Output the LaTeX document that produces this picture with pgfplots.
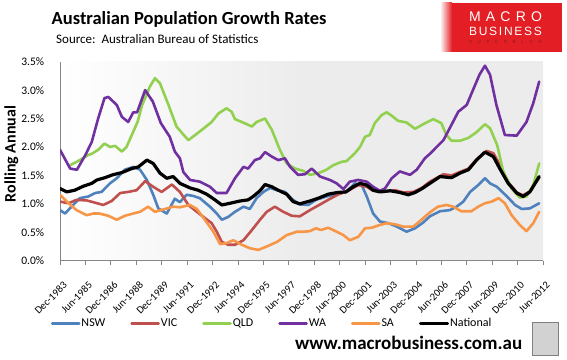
\documentclass[border=0pt]{standalone}
\usepackage{pgfplots}
\pgfplotsset{compat=1.18}
\usepackage{fontspec}
\setmainfont{Carlito}
\newfontfamily\logofont{Liberation Sans}
\definecolor{cNSW}{HTML}{4F81BD}
\definecolor{cVIC}{HTML}{C0504D}
\definecolor{cQLD}{HTML}{92D050}
\definecolor{cWA}{HTML}{7030A0}
\definecolor{cSA}{HTML}{F79646}
\definecolor{axgray}{HTML}{868686}
\definecolor{bggray}{HTML}{ECECEC}
\definecolor{mbred}{HTML}{E31E25}
\definecolor{mbdark}{HTML}{8C1C1C}
\pgfdeclarehorizontalshading{plotbg}{100bp}{color(0bp)=(white); color(25bp)=(white); color(50bp)=(bggray); color(100bp)=(bggray)}
\begin{document}
\begin{tikzpicture}[x=1pt,y=1pt]
\useasboundingbox (0,0) rectangle (567,359);
\begin{axis}[
  at={(60pt,98.3pt)}, anchor=south west,
  scale only axis, width=483pt, height=199pt,
  xmin=0, xmax=114, ymin=0, ymax=3.5,
  axis lines*=left,
  axis line style={axgray, line width=0.8pt},
  axis background/.style={shading=plotbg},
  xtick={0,6,...,114},
  xticklabels={Dec-1983,Jun-1985,Dec-1986,Jun-1988,Dec-1989,Jun-1991,Dec-1992,Jun-1994,Dec-1995,Jun-1997,Dec-1998,Jun-2000,Dec-2001,Jun-2003,Dec-2004,Jun-2006,Dec-2007,Jun-2009,Dec-2010,Jun-2012},
  ytick={0,0.5,1,1.5,2,2.5,3,3.5},
  yticklabels={0.0\%,0.5\%,1.0\%,1.5\%,2.0\%,2.5\%,3.0\%,3.5\%},
  tick align=outside,
  major tick length=4pt,
  xtick style={axgray, line width=0.8pt},
  ytick style={draw=none},
  xticklabel style={font=\fontsize{10.5}{12}\selectfont, inner sep=0pt, xshift=2.5pt, yshift=-16pt, anchor=north east, rotate=45},
  yticklabel style={font=\fontsize{11.5}{13}\selectfont, inner sep=0pt, anchor=east, xshift=-11.7pt},
  ylabel={Rolling Annual},
  ylabel style={at={(axis description cs:-0.1006,0.536)}, anchor=center, font=\bfseries\fontsize{16}{18}\selectfont},
  legend columns=6,
  legend image code/.code={\draw[#1] (0pt,0pt) -- (27pt,0pt);},
  legend style={at={(axis description cs:-0.01925,-0.3146)}, anchor=west, draw=none, fill=none, inner sep=0pt, font=\fontsize{12}{14}\selectfont, nodes={inner sep=1pt}, column sep=0pt, /tikz/every even column/.append style={column sep=24pt}},
  every axis plot/.append style={line join=round, line cap=round},
]
\addplot[cNSW, line width=2.6pt] coordinates {(0,0.89)(1.2,0.83)(2.7,0.95)(4.7,1.10)(6.7,1.13)(8.3,1.19)(9.8,1.21)(11.8,1.36)(13.4,1.45)(15.3,1.60)(17.3,1.65)(18.9,1.60)(20.5,1.42)(22,1.16)(23.2,0.92)(25.2,0.83)(27.1,1.09)(28.3,1.03)(29.9,1.16)(31.4,1.14)(33,1.10)(35.4,0.95)(37,0.83)(38.2,0.72)(39.7,0.77)(41.3,0.86)(43.3,0.95)(44.8,0.91)(46.4,1.10)(48,1.21)(49.6,1.28)(51.2,1.24)(53.1,1.21)(55,1.07)(56.6,0.99)(58.6,0.98)(60.4,1.07)(62.9,1.13)(65.3,1.17)(67.5,1.21)(69.6,1.36)(71.2,1.33)(72.4,1.13)(73.9,0.83)(75.5,0.69)(77.5,0.66)(79.5,0.60)(81.8,0.51)(83.8,0.57)(85.7,0.67)(87.3,0.78)(89.7,0.87)(92,0.89)(93.6,0.95)(95.2,1.04)(96.8,1.21)(98.7,1.33)(100.3,1.45)(101.5,1.36)(103.1,1.30)(105.5,1.13)(107.4,0.98)(109,0.91)(110.9,0.92)(113.1,1.01)};
\addlegendentry{NSW}
\addplot[cVIC, line width=2.6pt] coordinates {(0,1.04)(2,1.01)(3.9,1.07)(6.3,1.06)(8.3,1.02)(10.2,0.98)(12.2,1.05)(14.2,1.19)(16.1,1.21)(18.1,1.24)(20.1,1.40)(22,1.30)(24,1.21)(26.4,1.34)(28.3,1.21)(30.3,0.98)(32.3,0.86)(34.2,0.75)(35.8,0.66)(37,0.51)(38.2,0.33)(39.7,0.28)(41.3,0.28)(43.3,0.36)(45.3,0.54)(47.2,0.72)(48.8,0.86)(50.7,0.95)(52.7,0.86)(54.7,0.79)(56.6,0.78)(59,0.89)(61.4,0.99)(63.3,1.07)(65.5,1.16)(68,1.23)(70.4,1.33)(72.4,1.30)(73.9,1.23)(76.3,1.21)(79.1,1.24)(81,1.20)(83.4,1.21)(85.4,1.28)(87.3,1.39)(90.5,1.52)(92.4,1.50)(96.4,1.62)(98.3,1.78)(100.7,1.93)(102.3,1.89)(103.8,1.69)(105.8,1.38)(107.8,1.20)(109.3,1.15)(110.9,1.22)(113.1,1.46)};
\addlegendentry{VIC}
\addplot[cQLD, line width=2.6pt] coordinates {(2.4,1.68)(4.7,1.77)(6.7,1.86)(7.5,1.88)(9,1.95)(10.5,2.06)(11.8,2.00)(13,2.02)(14.6,1.92)(15.7,2.00)(17.3,2.27)(18.3,2.44)(19.4,2.74)(21.2,3.06)(22.4,3.21)(23.6,3.12)(25.6,2.74)(27.5,2.36)(29.1,2.22)(30.3,2.12)(31.9,2.21)(33.8,2.32)(35.8,2.44)(37.4,2.59)(39.3,2.68)(40.5,2.62)(41.3,2.49)(42.9,2.44)(45.3,2.36)(46.4,2.44)(48.4,2.50)(50,2.30)(51.9,1.95)(53.5,1.71)(55.5,1.62)(57.4,1.58)(59,1.51)(61,1.54)(62.9,1.60)(64.5,1.68)(66.5,1.74)(67.6,1.75)(69.6,1.89)(70.8,2.00)(72,2.18)(73.1,2.21)(74.3,2.42)(75.9,2.56)(77.1,2.61)(78.3,2.55)(79.8,2.46)(81.8,2.43)(83.8,2.32)(85.7,2.40)(88.1,2.49)(90,2.42)(91.2,2.21)(92.4,2.11)(94.4,2.11)(96.4,2.16)(98.3,2.26)(100.3,2.40)(101.5,2.33)(103.2,2.03)(104.6,1.57)(106.6,1.27)(108.5,1.11)(110.1,1.13)(111.7,1.33)(113.1,1.71)};
\addlegendentry{QLD}
\addplot[cWA, line width=2.6pt] coordinates {(0,1.95)(2.4,1.62)(4,1.60)(6,1.86)(7.5,2.09)(9,2.50)(10.5,2.86)(11.4,2.88)(13.4,2.74)(14.6,2.53)(16.1,2.44)(17.3,2.61)(18.2,2.61)(20.1,3.00)(21.9,2.80)(23.8,2.42)(25.9,2.18)(27.1,1.92)(28.3,1.80)(29.1,1.56)(30.7,1.42)(33,1.39)(35.4,1.30)(37,1.19)(39.3,1.19)(41.3,1.45)(43.3,1.65)(44.4,1.62)(46,1.77)(47.2,1.80)(48.4,1.91)(50,1.83)(51.5,1.77)(53.1,1.80)(54.3,1.65)(56.2,1.51)(57.8,1.52)(59.4,1.62)(61.4,1.48)(63.7,1.42)(65.3,1.36)(66.9,1.26)(68.4,1.39)(70.4,1.42)(72.4,1.39)(73.9,1.30)(75.5,1.23)(76.7,1.27)(78.3,1.45)(80.2,1.57)(82.6,1.51)(84.2,1.60)(86.1,1.80)(87.3,1.88)(90.5,2.12)(92.4,2.39)(94,2.62)(96,2.74)(97.8,3.06)(99,3.27)(100.3,3.43)(101.5,3.27)(103,2.74)(105,2.21)(107.8,2.20)(110.1,2.44)(111.7,2.77)(113.1,3.15)};
\addlegendentry{WA}
\addplot[cSA, line width=2.6pt] coordinates {(0,1.16)(2,1.01)(3.9,0.89)(6.3,0.80)(7.9,0.83)(9.3,0.83)(11.4,0.79)(13.4,0.72)(15.3,0.79)(17.3,0.83)(18.9,0.86)(20.8,0.95)(22.4,0.86)(24.8,0.91)(26.7,0.95)(28.3,0.94)(30.7,0.98)(32.3,0.91)(34.2,0.72)(36.2,0.51)(37.8,0.29)(39.3,0.31)(40.9,0.36)(42.9,0.28)(44.8,0.22)(46.8,0.19)(48.8,0.25)(51.2,0.33)(53.5,0.45)(55.9,0.51)(57.5,0.51)(59,0.52)(60.4,0.57)(61.6,0.54)(63.3,0.58)(65.3,0.51)(66.9,0.45)(68.4,0.36)(70.4,0.42)(72,0.57)(73.6,0.58)(75.5,0.63)(77.1,0.66)(79.1,0.64)(81,0.60)(83.4,0.60)(85,0.70)(87.3,0.85)(89.2,0.95)(91.2,0.98)(92.8,0.95)(94.7,0.87)(97.1,0.87)(98.7,0.95)(100.3,1.01)(101.9,1.04)(103.5,1.10)(105,1.01)(106.6,0.80)(108.5,0.63)(110.1,0.52)(111.7,0.66)(113.1,0.86)};
\addlegendentry{SA}
\addplot[black, line width=3.2pt] coordinates {(0,1.27)(1.6,1.21)(3.5,1.24)(5.5,1.31)(7.5,1.36)(8.7,1.42)(10.6,1.46)(12.4,1.51)(14.6,1.55)(16.9,1.62)(18.5,1.65)(20.5,1.77)(22,1.71)(23.6,1.54)(25.2,1.45)(26.7,1.48)(28.3,1.36)(30.7,1.28)(32.6,1.24)(34.6,1.17)(36.2,1.09)(38.2,0.98)(40.1,1.01)(42.5,1.05)(44.4,1.07)(45.6,1.13)(47.2,1.23)(48.4,1.34)(50,1.30)(51.5,1.24)(53.5,1.17)(55,1.04)(56.6,1.00)(59,1.05)(61,1.10)(63.3,1.17)(65.5,1.20)(67.5,1.21)(69.2,1.30)(70.8,1.36)(72.4,1.33)(73.9,1.24)(75.5,1.21)(77.9,1.23)(80.2,1.20)(82.2,1.16)(83.8,1.20)(85.5,1.27)(87.3,1.36)(89.7,1.48)(92.4,1.46)(94.4,1.54)(96.4,1.60)(98.3,1.77)(100.3,1.91)(102.3,1.83)(103.8,1.62)(105.8,1.36)(107.8,1.19)(109.3,1.13)(110.9,1.21)(113.1,1.48)};
\addlegendentry{National}
\end{axis}
\node[anchor=base west, font=\bfseries\fontsize{18.5}{20}\selectfont, inner sep=0pt] at (51.5,334) {Australian Population Growth Rates};
\node[anchor=base west, font=\fontsize{13}{15}\selectfont, inner sep=0pt] at (56,315) {Source:\ \ Australian Bureau of Statistics};
\node[anchor=base west, font=\bfseries\fontsize{19}{21}\selectfont, inner sep=0pt] at (295,10) {www.macrobusiness.com.au};
\shade[left color=white, right color=mbred] (440,307) rectangle (452,356);
\fill[mbred] (452,307) rectangle (562,356);
\node[font=\logofont\fontsize{14}{14}\selectfont, text=white, inner sep=0pt] at (505.5,342) {\makebox[73pt][s]{M\hfill A\hfill C\hfill R\hfill O}};
\node[font=\logofont\fontsize{12}{12}\selectfont, text=white, inner sep=0pt] at (505.5,327.5) {\makebox[73pt][s]{B\hfill U\hfill S\hfill I\hfill N\hfill E\hfill S\hfill S}};
\node[font=\logofont\fontsize{4.5}{5}\selectfont, text=mbdark, inner sep=0pt] at (505.5,317) {\makebox[73pt][s]{S\hfill U\hfill P\hfill E\hfill R\hfill B\hfill L\hfill O\hfill G}};
\draw[gray, line width=1pt, fill=gray!35] (532,4) rectangle (558,37);
\end{tikzpicture}
\end{document}
